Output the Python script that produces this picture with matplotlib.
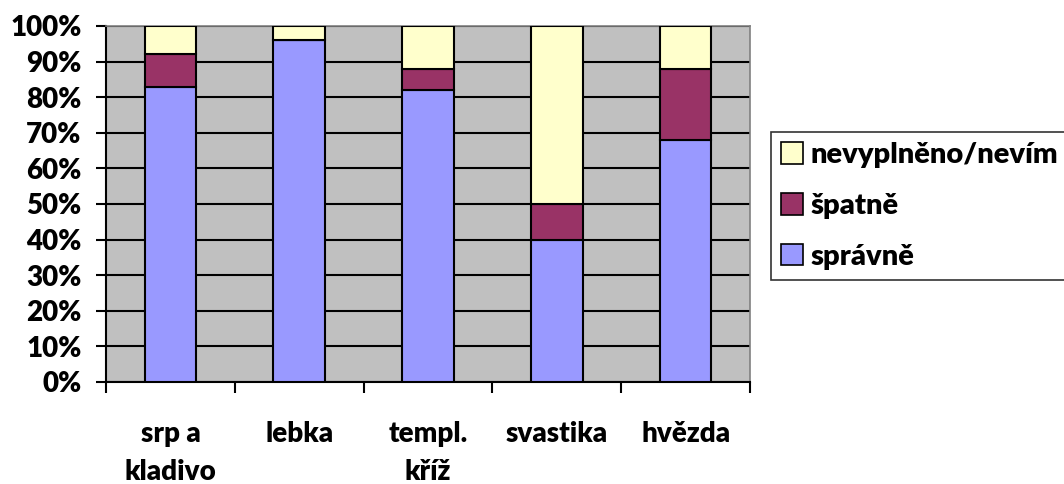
import numpy as np
import matplotlib.pyplot as plt
from matplotlib.patches import Patch

categories = ["srp a\nkladivo", "lebka", "templ.\nkříž", "svastika", "hvězda"]
spravne = [83, 96, 82, 40, 68]
spatne = [9, 0, 6, 10, 20]
nevyplneno = [8, 4, 12, 50, 12]

plt.rcParams['font.family'] = ['Lato', 'DejaVu Sans']
plt.rcParams['font.weight'] = 'heavy'
FS = 20

fig = plt.figure(figsize=(10.64, 4.84), dpi=100)
ax = fig.add_axes([106 / 1064, 1 - 382 / 484, (750 - 106) / 1064, (382 - 26) / 484])
ax.set_facecolor('#c0c0c0')

x = np.arange(len(categories))
w = 0.4
s1 = np.array(spravne)
s2 = np.array(spatne)
s3 = np.array(nevyplneno)
ax.bar(x, s1, w, color='#9999ff', edgecolor='black', linewidth=1.5, zorder=3)
ax.bar(x, s2, w, bottom=s1, color='#993366', edgecolor='black', linewidth=1.5, zorder=3)
ax.bar(x, s3, w, bottom=s1 + s2, color='#ffffcc', edgecolor='black', linewidth=1.5, zorder=3)

ax.set_xlim(-0.5, len(categories) - 0.5)
ax.set_ylim(0, 100)
ax.set_yticks(np.arange(0, 101, 10))
ax.set_yticklabels([f"{v}%" for v in range(0, 101, 10)], fontsize=FS, fontweight='heavy')
ax.yaxis.grid(True, color='black', linewidth=1.5, zorder=1)
ax.set_axisbelow(True)
ax.tick_params(axis='y', length=7.5, width=1.5, pad=10)

ax.set_xticks(x)
ax.set_xticklabels(categories, fontsize=FS, fontweight='heavy', linespacing=1.6)
ax.set_xticks(np.arange(-0.5, len(categories)), minor=True)
ax.tick_params(axis='x', which='major', length=0, pad=28)
ax.tick_params(axis='x', which='minor', length=8, width=1.5)

for s in ['left', 'bottom']:
    ax.spines[s].set_linewidth(1.5)
    ax.spines[s].set_color('black')
for s in ['top', 'right']:
    ax.spines[s].set_linewidth(1.2)
    ax.spines[s].set_color('#808080')

handles = [Patch(facecolor='#ffffcc', edgecolor='black', linewidth=1.2),
           Patch(facecolor='#993366', edgecolor='black', linewidth=1.2),
           Patch(facecolor='#9999ff', edgecolor='black', linewidth=1.2)]
leg = fig.legend(handles, ['nevyplněno/nevím', 'špatně', 'správně'],
                 loc='upper left', bbox_to_anchor=(771 / 1064, 1 - 132 / 484),
                 frameon=True, fancybox=False, edgecolor='black',
                 prop={'size': 21, 'weight': 'heavy'},
                 handlelength=0.75, handleheight=0.75, handletextpad=0.25,
                 labelspacing=0.85, borderpad=0.35, borderaxespad=0)
leg.get_frame().set_linewidth(1.2)

fig.savefig('out.png', dpi=100)
